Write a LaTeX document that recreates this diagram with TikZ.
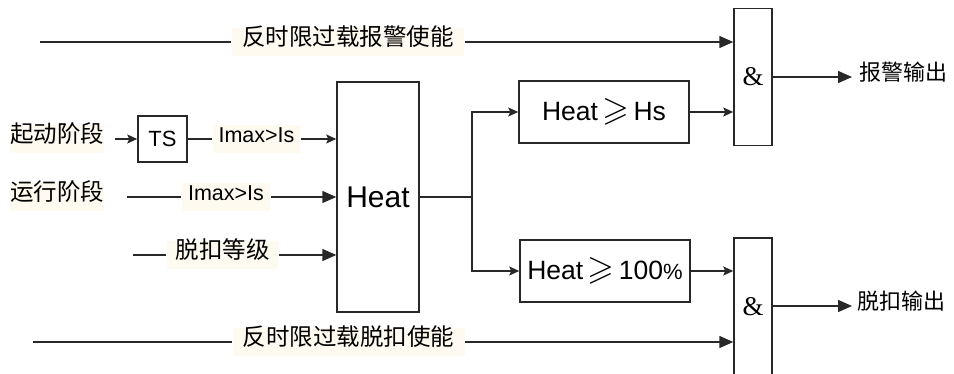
\documentclass[tikz,border=0pt]{standalone}
\usepackage{amssymb}
\usepackage{fontspec}
\setmainfont{Liberation Sans}
\newfontfamily\cjk{Noto Sans CJK SC}
\newfontfamily\serifamp{Liberation Serif}
\usetikzlibrary{arrows.meta}
\definecolor{cream}{RGB}{255,250,240}
\definecolor{ink}{RGB}{40,40,40}
\newcommand{\mygeq}{\,\scalebox{1.3}{$\geqslant$}\,}
\begin{document}
\begin{tikzpicture}[x=1pt,y=-1pt,color=ink,line width=1.5pt,
  box/.style={draw=ink,line width=1.5pt,inner sep=0pt,fill=white,text=black},
  lab/.style={fill=cream,draw=none,inner sep=0pt,minimum height=28pt,text=black},
  cjklab/.style={lab,font=\cjk\fontsize{23.5}{23.5}\selectfont,text height=0.86em,text depth=0.12em},
  latlab/.style={lab,font=\fontsize{21.5}{21.5}\selectfont,text height=0.72em,text depth=0.02em},
  outtxt/.style={inner sep=0pt,anchor=west,text=black,font=\cjk\fontsize{22}{22}\selectfont,text height=0.86em,text depth=0.12em},
  big/.style={-{Triangle[length=14pt,width=12pt]}},
  small/.style={-{Stealth[length=10pt,width=9pt,inset=2pt]}}]
\useasboundingbox (0,0) rectangle (954,374);

% blocks
\node[box,minimum width=38pt,minimum height=137pt,font=\serifamp\fontsize{27}{27}\selectfont] (and1) at (753,77) {\&};
\node[box,minimum width=38pt,minimum height=138pt,font=\serifamp\fontsize{27}{27}\selectfont] (and2) at (753,307) {\&};
\node[box,minimum width=170pt,minimum height=62pt,font=\fontsize{26.5}{26.5}\selectfont] (hs) at (604,112) {Heat\mygeq Hs};
\node[box,minimum width=170pt,minimum height=62pt,font=\fontsize{26.5}{26.5}\selectfont] (pct) at (605,271) {Heat\mygeq 100{\fontsize{22}{22}\selectfont\%}};
\node[box,minimum width=82pt,minimum height=230pt,font=\fontsize{30}{30}\selectfont] (heat) at (378,197) {Heat};
\node[box,minimum width=49pt,minimum height=46pt,font=\fontsize{22}{22}\selectfont] (ts) at (162.5,139) {TS};

% left texts
\node[cjklab,minimum width=94pt] (qd) at (57,139) {起动阶段};
\node[cjklab,minimum width=94pt] (yx) at (57,197) {运行阶段};

% labels
\node[latlab,minimum width=87pt] (l1) at (256.5,139) {Imax>Is};
\node[latlab,minimum width=88pt] (l2) at (226,197) {Imax>Is};
\node[cjklab,minimum width=111pt] (l3) at (222.5,255) {脱扣等级};
\node[cjklab,minimum width=232pt] (ltop) at (348,42) {反时限过载报警使能};
\node[cjklab,minimum width=232pt] (lbot) at (348.5,342) {反时限过载脱扣使能};

% free ends
\coordinate (s0) at (115,139);
\coordinate (s2) at (127,197);
\coordinate (s3) at (133,255);
\coordinate (stop) at (40,42);
\coordinate (sbot) at (33,342);
\coordinate (split) at (472,197);
\coordinate (o1) at (852,77);
\coordinate (o2) at (852,306);

% connectors
\draw[small] (s0) -- (ts.west);
\draw (ts.east) -- (l1.west);
\draw[small] (l1.east) -- (l1.east -| heat.west);
\draw (s2) -- (l2.west);
\draw[big] (l2.east) -- (l2.east -| heat.west);
\draw (s3) -- (l3.west);
\draw[big] (l3.east) -- (l3.east -| heat.west);
\draw (stop) -- (ltop.west);
\draw[big] (ltop.east) -- (ltop.east -| and1.west);
\draw (sbot) -- (lbot.west);
\draw[big] (lbot.east) -- (lbot.east -| and2.west);
\draw (heat.east) -- (split);
\draw[small] (split) |- (hs.west);
\draw[small] (split) |- (pct.west);
\draw[small] (hs.east) -- (hs.east -| and1.west);
\draw[small] (pct.east) -- (pct.east -| and2.west);
\draw[big] (o1 -| and1.east) -- (o1);
\draw[big] (o2 -| and2.east) -- (o2);

% outputs
\node[outtxt] (out1) at (859,77) {报警输出};
\node[outtxt] (out2) at (857,306) {脱扣输出};
\end{tikzpicture}
\end{document}
